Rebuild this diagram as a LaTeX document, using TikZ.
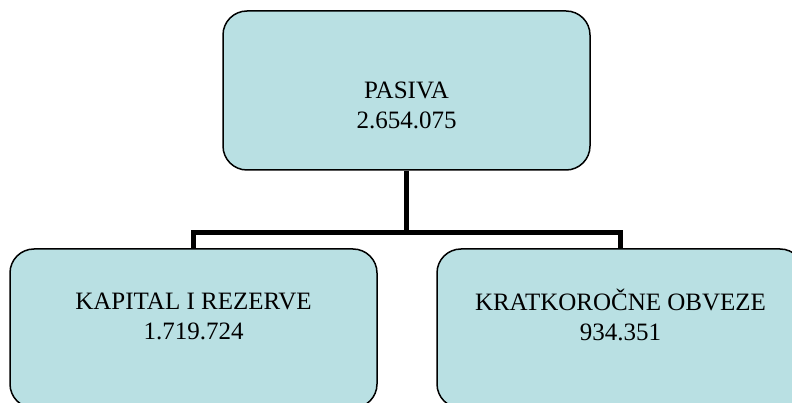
\documentclass[tikz,border=0pt]{standalone}
\usepackage{fontspec}
\setmainfont{Liberation Serif}
\usetikzlibrary{positioning}
\definecolor{boxcolor}{RGB}{185, 224, 227}

\begin{document}
\begin{tikzpicture}[x=1pt, y=1pt,
    box/.style={draw=black, line width=1.5pt, fill=boxcolor, rounded corners=24pt,
        minimum width=367pt, minimum height=159pt, inner sep=0pt},
    boxtext/.style={align=center, inner sep=0pt, font=\fontsize{25}{30}\selectfont},
    conn/.style={line width=5pt}]
    \useasboundingbox (0,0) rectangle (792,-403);

    % boxes
    \node[box] (P) at (406.5,-90.5) {};
    \node[box] (K) at (193.5,-328.5) {};
    \node[box] (O) at (620.5,-328.5) {};

    % texts
    \node[boxtext] (Ptext) at (406.5,-105.5) {PASIVA\\2.654.075};
    \node[boxtext] (Ktext) at (193.5,-316.5) {KAPITAL I REZERVE\\1.719.724};
    \node[boxtext] (Otext) at (620.5,-314.5) {KRATKOROČNE OBVEZE\\934.351};

    % connectors
    \coordinate (split) at ([yshift=-62pt]P.south);
    \draw[conn] (P.south) -- (split);
    \draw[conn] (split) -| (K.north);
    \draw[conn] (split) -| (O.north);
\end{tikzpicture}
\end{document}
